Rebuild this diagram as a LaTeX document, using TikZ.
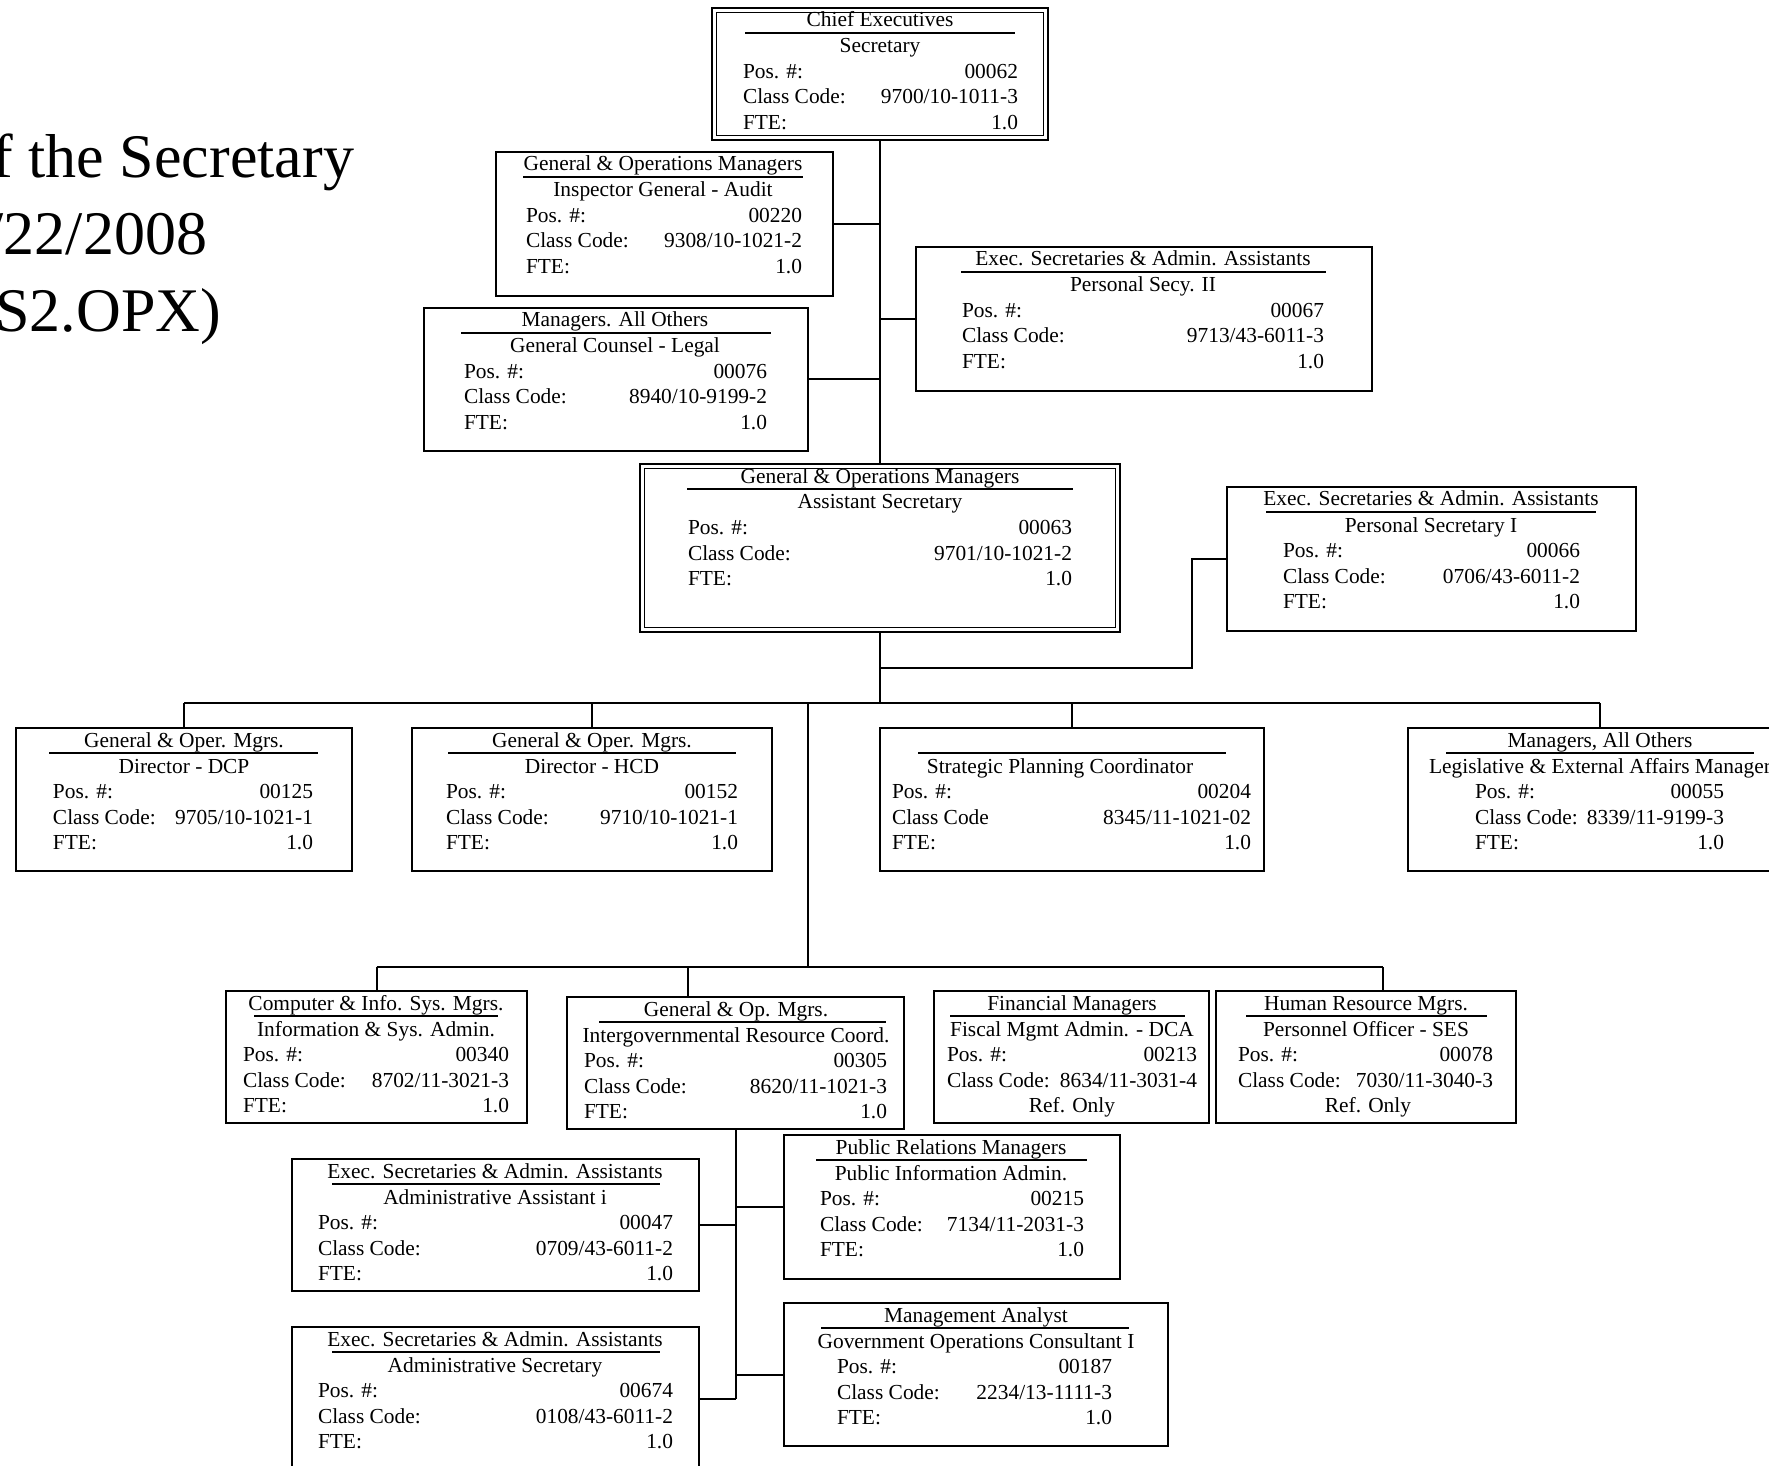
\documentclass[tikz,border=0pt]{standalone}
\usepackage{fontspec}
\setmainfont{Liberation Serif}
\usetikzlibrary{fit}

\tikzset{
  lbl/.style={inner sep=0pt, outer sep=0pt, font=\fontsize{10.7}{12}\selectfont},
  titletext/.style={inner sep=0pt, outer sep=0pt, font=\fontsize{31}{37}\selectfont},
  cardbox/.style={draw, line width=1pt, inner sep=0pt, outer sep=0pt},
  headbox/.style={draw, line width=1.3pt, inner sep=0pt, outer sep=0pt},
  innerframe/.style={line width=0.8pt},
  rule/.style={line width=1.1pt},
  link/.style={line width=1pt},
}

% vertical offsets of the text lines below the top edge of a card
\newcommand\layoutstd{\def\oh{19}\def\ou{25}\def\ot{45}\def\op{70.5}\def\oc{96}\def\of{121.5}}

% id, top, centre x, rule from, rule to, category, title
\newcommand\cardhead[7]{%
  \node[lbl, anchor=base] (#1-h) at (#3,#2+\oh) {#6};
  \draw[rule] (#4,#2+\ou) -- (#5,#2+\ou);
  \node[lbl, anchor=base] (#1-t) at (#3,#2+\ot) {#7};
}
% name, baseline, left x, right x, label, value
\newcommand\cardrow[6]{%
  \node[lbl, anchor=base west] (#1-l) at (#3,#2) {#5};
  \node[lbl, anchor=base east] (#1-v) at (#4,#2) {#6};
}
% id, top, left x, right x, position, class label, class code, fte
\newcommand\cardrows[8]{%
  \cardrow{#1-p}{#2+\op}{#3}{#4}{Pos. \#:}{#5}
  \cardrow{#1-c}{#2+\oc}{#3}{#4}{#6}{#7}
  \cardrow{#1-f}{#2+\of}{#3}{#4}{FTE:}{#8}
}
% id, top, left x, right x, position, class code, centre x
\newcommand\refrows[7]{%
  \cardrow{#1-p}{#2+\op}{#3}{#4}{Pos. \#:}{#5}
  \cardrow{#1-c}{#2+\oc}{#3}{#4}{Class Code:}{#6}
  \node[lbl, anchor=base] (#1-r) at (#7,#2+\of) {Ref. Only};
}

\begin{document}
\begin{tikzpicture}[x=0.5pt, y=-0.5pt]
\useasboundingbox (0,0) rectangle (1769,1466);
\fill[white] (0,0) rectangle (1769,1466);
\clip (0,0) rectangle (1769,1466);

% heading
\node[titletext, anchor=base east] (t1) at (354,178) {f the Secretary};
\node[titletext, anchor=base east] (t2) at (207,255) {/22/2008};
\node[titletext, anchor=base east] (t3) at (221,332) {S2.OPX)};

% ---------- cards ----------
\layoutstd
\node[headbox, fit={(712,8) (1048,140)}] (b1) {};
\draw[innerframe] ([shift={(4.5,4.5)}]b1.north west) rectangle ([shift={(-4.5,-4.5)}]b1.south east);
\cardhead{b1}{8}{880}{745}{1015}{Chief Executives}{Secretary}
\cardrows{b1}{8}{743}{1018}{00062}{Class Code:}{9700/10-1011-3}{1.0}

\node[cardbox, fit={(496,152) (833,296)}] (b2) {};
\cardhead{b2}{152}{663}{523}{803}{General \& Operations Managers}{Inspector General - Audit}
\cardrows{b2}{152}{526}{802}{00220}{Class Code:}{9308/10-1021-2}{1.0}

\node[cardbox, fit={(424,308) (808,451)}] (b3) {};
\cardhead{b3}{308}{615}{461}{771}{Managers. All Others}{General Counsel - Legal}
\cardrows{b3}{308}{464}{767}{00076}{Class Code:}{8940/10-9199-2}{1.0}

\node[cardbox, fit={(916,247) (1372,391)}] (b4) {};
\cardhead{b4}{247}{1143}{961}{1326}{Exec. Secretaries \& Admin. Assistants}{Personal Secy. II}
\cardrows{b4}{247}{962}{1324}{00067}{Class Code:}{9713/43-6011-3}{1.0}

\node[headbox, fit={(640,464) (1120,632)}] (b5) {};
\draw[innerframe] ([shift={(4.5,4.5)}]b5.north west) rectangle ([shift={(-4.5,-4.5)}]b5.south east);
\cardhead{b5}{464}{880}{687}{1073}{General \& Operations Managers}{Assistant Secretary}
\cardrows{b5}{464}{688}{1072}{00063}{Class Code:}{9701/10-1021-2}{1.0}

\node[cardbox, fit={(1227,487) (1636,631)}] (b6) {};
\cardhead{b6}{487}{1431}{1266}{1596}{Exec. Secretaries \& Admin. Assistants}{Personal Secretary I}
\cardrows{b6}{487}{1283}{1580}{00066}{Class Code:}{0706/43-6011-2}{1.0}

\node[cardbox, fit={(16,728) (352,871)}] (b7) {};
\cardhead{b7}{728}{184}{49}{318}{General \& Oper. Mgrs.}{Director - DCP}
\cardrows{b7}{728}{53}{313}{00125}{Class Code:}{9705/10-1021-1}{1.0}

\node[cardbox, fit={(412,728) (772,871)}] (b8) {};
\cardhead{b8}{728}{592}{448}{736}{General \& Oper. Mgrs.}{Director - HCD}
\cardrows{b8}{728}{446}{738}{00152}{Class Code:}{9710/10-1021-1}{1.0}

\node[cardbox, fit={(880,728) (1264,871)}] (b9) {};
\cardhead{b9}{728}{1060}{918}{1226}{}{Strategic Planning Coordinator}
\cardrows{b9}{728}{892}{1251}{00204}{Class Code}{8345/11-1021-02}{1.0}

\node[cardbox, fit={(1408,728) (1792,871)}] (b10) {};
\cardhead{b10}{728}{1600}{1446}{1754}{Managers, All Others}{Legislative \& External Affairs Manager}
\cardrows{b10}{728}{1475}{1724}{00055}{Class Code:}{8339/11-9199-3}{1.0}

\node[cardbox, fit={(226,991) (527,1123)}] (b11) {};
\cardhead{b11}{991}{376}{254}{498}{Computer \& Info. Sys. Mgrs.}{Information \& Sys. Admin.}
\cardrows{b11}{991}{243}{509}{00340}{Class Code:}{8702/11-3021-3}{1.0}

\node[cardbox, fit={(567,997) (904,1129)}] (b12) {};
\cardhead{b12}{997}{736}{599}{886}{General \& Op. Mgrs.}{Intergovernmental Resource Coord.}
\cardrows{b12}{997}{584}{887}{00305}{Class Code:}{8620/11-1021-3}{1.0}

\node[cardbox, fit={(934,991) (1209,1123)}] (b13) {};
\cardhead{b13}{991}{1072}{950}{1185}{Financial Managers}{Fiscal Mgmt Admin. - DCA}
\refrows{b13}{991}{947}{1197}{00213}{8634/11-3031-4}{1072}

\node[cardbox, fit={(1216,991) (1516,1123)}] (b14) {};
\cardhead{b14}{991}{1366}{1246}{1487}{Human Resource Mgrs.}{Personnel Officer - SES}
\refrows{b14}{991}{1238}{1493}{00078}{7030/11-3040-3}{1368}

\node[cardbox, fit={(292,1159) (699,1291)}] (b15) {};
\cardhead{b15}{1159}{495}{332}{660}{Exec. Secretaries \& Admin. Assistants}{Administrative Assistant i}
\cardrows{b15}{1159}{318}{673}{00047}{Class Code:}{0709/43-6011-2}{1.0}

\node[cardbox, fit={(784,1135) (1120,1279)}] (b16) {};
\cardhead{b16}{1135}{951}{816}{1087}{Public Relations Managers}{Public Information Admin.}
\cardrows{b16}{1135}{820}{1084}{00215}{Class Code:}{7134/11-2031-3}{1.0}

\node[cardbox, fit={(292,1327) (699,1471)}] (b17) {};
\cardhead{b17}{1327}{495}{332}{660}{Exec. Secretaries \& Admin. Assistants}{Administrative Secretary}
\cardrows{b17}{1327}{318}{673}{00674}{Class Code:}{0108/43-6011-2}{1.0}

\node[cardbox, fit={(784,1303) (1168,1446)}] (b18) {};
\cardhead{b18}{1303}{976}{821}{1129}{Management Analyst}{Government Operations Consultant I}
\cardrows{b18}{1303}{837}{1112}{00187}{Class Code:}{2234/13-1111-3}{1.0}

% ---------- reporting lines ----------
\draw[link] (b1.south) -- (b5.north);
\draw[link] (b2.east) -- (b2.east -| b1.south);
\draw[link] (b3.east) -- (b3.east -| b1.south);
\draw[link] (b4.west) -- (b4.west -| b1.south);

\coordinate (k6) at (1192,668);
\draw[link] (k6 -| b5.south) -- (k6) |- (b6.west);

\coordinate (bus1) at (0,703);
\draw[link] (b5.south) -- (b5.south |- bus1);
\draw[link] (b7.north |- bus1) -- (b10.north |- bus1);
\foreach \b in {b7,b8,b9,b10} \draw[link] (\b.north |- bus1) -- (\b.north);

\coordinate (k2) at (808,703);
\coordinate (bus2) at (0,967);
\coordinate (d12) at (688,967);
\coordinate (d14) at (1383,967);
\draw[link] (k2) -- (k2 |- bus2);
\draw[link] (b11.north |- bus2) -- (d14);
\draw[link] (b11.north |- bus2) -- (b11.north);
\draw[link] (d12) -- (d12 |- b12.north);
\draw[link] (d14) -- (d14 |- b14.north);

\draw[link] (b12.south) -- (b12.south |- b17.east);
\draw[link] (b16.west -| b12.south) -- (b16.west);
\draw[link] (b15.east) -- (b15.east -| b12.south);
\draw[link] (b18.west -| b12.south) -- (b18.west);
\draw[link] (b17.east) -- (b17.east -| b12.south);
\end{tikzpicture}
\end{document}
